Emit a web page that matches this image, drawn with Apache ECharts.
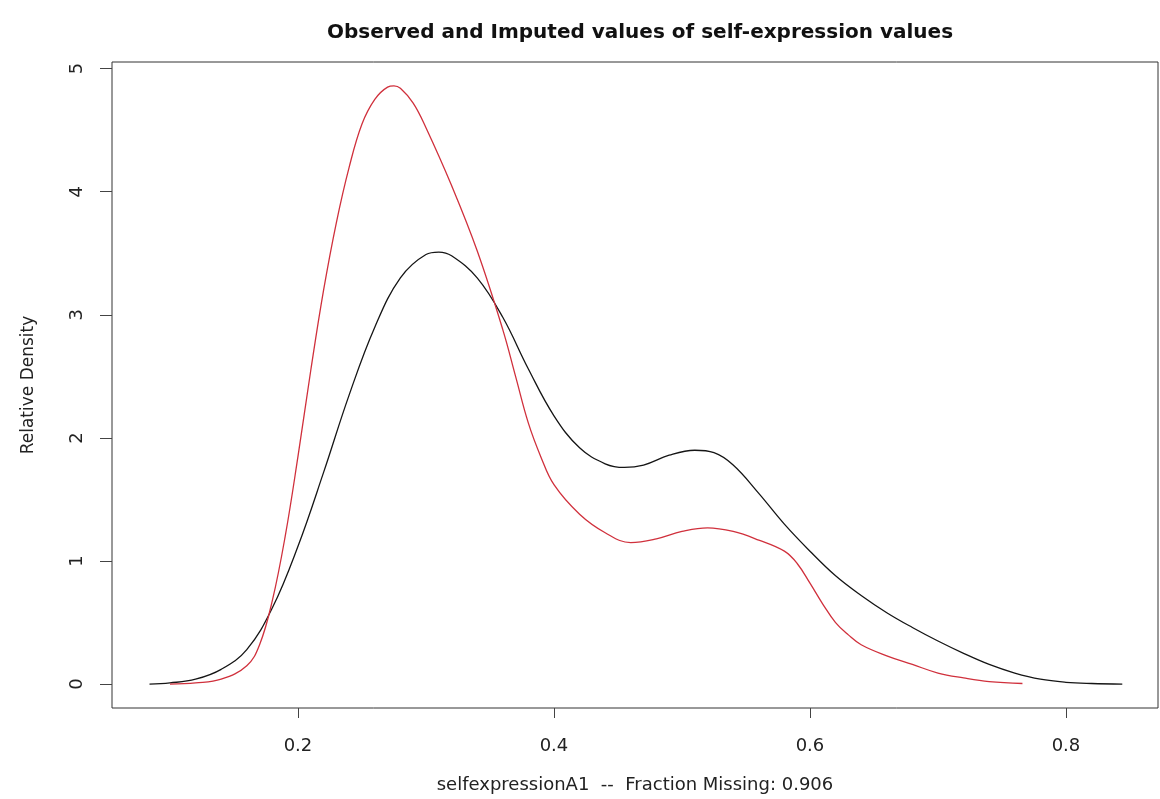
<!DOCTYPE html>
<html>
<head>
<meta charset="utf-8">
<script src="https://cdn.jsdelivr.net/npm/echarts@6/dist/echarts.min.js"></script>
<style>
  html, body { margin: 0; padding: 0; background: #fff; }
  #chart { width: 1160px; height: 799px; }
</style>
</head>
<body>
<div id="chart"></div>
<script>
// density of observed values (black)
const observedX = [0.084, 0.10, 0.12, 0.14, 0.16, 0.18, 0.20, 0.22, 0.24, 0.26, 0.28, 0.30, 0.31, 0.32, 0.34, 0.36, 0.38, 0.40, 0.42, 0.44, 0.455, 0.47, 0.49, 0.51, 0.525, 0.54, 0.56, 0.58, 0.60, 0.62, 0.64, 0.66, 0.68, 0.70, 0.72, 0.74, 0.76, 0.78, 0.80, 0.82, 0.844];
const observedY = [0, 0.01, 0.04, 0.12, 0.28, 0.62, 1.12, 1.72, 2.35, 2.90, 3.30, 3.49, 3.51, 3.48, 3.30, 2.98, 2.56, 2.18, 1.92, 1.79, 1.76, 1.78, 1.86, 1.90, 1.88, 1.78, 1.55, 1.30, 1.08, 0.88, 0.72, 0.58, 0.46, 0.35, 0.25, 0.16, 0.09, 0.04, 0.015, 0.005, 0];

// density of imputed values (red)
const imputedX = [0.10, 0.12, 0.14, 0.16, 0.17, 0.18, 0.19, 0.20, 0.21, 0.22, 0.23, 0.24, 0.25, 0.26, 0.27, 0.275, 0.28, 0.29, 0.30, 0.32, 0.34, 0.36, 0.37, 0.38, 0.39, 0.40, 0.42, 0.44, 0.46, 0.48, 0.50, 0.52, 0.54, 0.56, 0.58, 0.59, 0.60, 0.61, 0.62, 0.63, 0.64, 0.66, 0.68, 0.70, 0.72, 0.74, 0.766];
const imputedY = [0, 0.01, 0.04, 0.15, 0.32, 0.68, 1.20, 1.85, 2.55, 3.20, 3.75, 4.20, 4.55, 4.75, 4.85, 4.86, 4.84, 4.72, 4.52, 4.05, 3.52, 2.88, 2.50, 2.12, 1.84, 1.62, 1.38, 1.23, 1.15, 1.18, 1.24, 1.27, 1.24, 1.17, 1.08, 0.98, 0.82, 0.65, 0.50, 0.40, 0.32, 0.23, 0.16, 0.09, 0.05, 0.02, 0.005];

const xTicks = [0.2, 0.4, 0.6, 0.8];
const yTicks = [0, 1, 2, 3, 4, 5];

const font = "DejaVu Sans, Verdana, sans-serif";

function pairs(xs, ys) {
  return xs.map((x, i) => [x, ys[i]]);
}

const chart = echarts.init(document.getElementById("chart"));

chart.setOption({
  backgroundColor: "#ffffff",
  animation: false,
  title: {
    text: "Observed and Imputed values of self-expression values",
    left: 635,
    textAlign: "center",
    top: 18,
    textStyle: {
      fontFamily: font,
      fontSize: 20,
      fontWeight: "bold",
      color: "#111",
    },
  },
  grid: {
    left: 112,
    right: 2,
    top: 62,
    bottom: 89,
    show: true,
    borderColor: "#333",
    borderWidth: 1,
    backgroundColor: "transparent",
  },
  xAxis: {
    type: "value",
    min: 0.0547,
    max: 0.8719,
    name: "selfexpressionA1  --  Fraction Missing: 0.906",
    nameLocation: "middle",
    nameGap: 68,
    nameTextStyle: { fontFamily: font, fontSize: 18, color: "#222" },
    axisLine: { show: false, onZero: false },
    splitLine: { show: false },
    axisTick: {
      show: true,
      length: 10,
      customValues: xTicks,
      lineStyle: { color: "#444" },
    },
    axisLabel: {
      fontFamily: font,
      fontSize: 18,
      color: "#222",
      margin: 29,
      customValues: xTicks,
      formatter: v => v.toFixed(1),
    },
  },
  yAxis: {
    type: "value",
    min: -0.194,
    max: 5.054,
    name: "Relative Density",
    nameLocation: "middle",
    nameGap: 75,
    nameTextStyle: { fontFamily: font, fontSize: 17, color: "#222" },
    axisLine: { show: false, onZero: false },
    splitLine: { show: false },
    axisTick: {
      show: true,
      length: 12,
      customValues: yTicks,
      lineStyle: { color: "#444" },
    },
    axisLabel: {
      fontFamily: font,
      fontSize: 18,
      color: "#222",
      rotate: 90,
      margin: 26,
      customValues: yTicks,
    },
  },
  series: [
    {
      name: "observed",
      type: "line",
      data: pairs(observedX, observedY),
      smooth: 0.4,
      showSymbol: false,
      lineStyle: { color: "#151515", width: 1.3 },
    },
    {
      name: "imputed",
      type: "line",
      data: pairs(imputedX, imputedY),
      smooth: 0.4,
      showSymbol: false,
      lineStyle: { color: "#d0303c", width: 1.3 },
    },
  ],
});
</script>
</body>
</html>
